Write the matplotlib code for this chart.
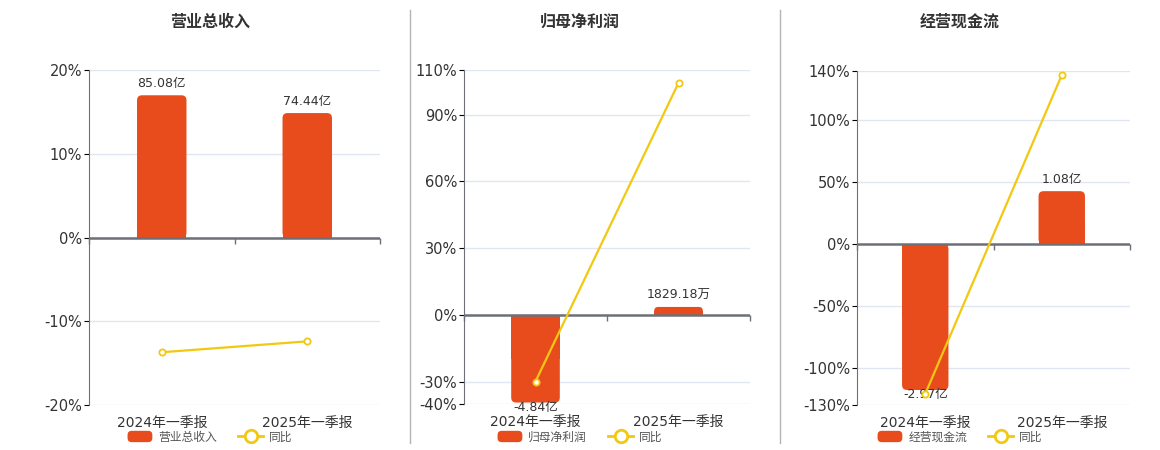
import matplotlib
matplotlib.use("Agg")
import matplotlib.pyplot as plt
from matplotlib.lines import Line2D
from matplotlib.patches import FancyBboxPatch, Patch, Rectangle
from matplotlib.legend_handler import HandlerPatch
import numpy as np

plt.rcParams["font.family"] = ["DejaVu Sans", "Noto Sans CJK SC"]

# --- data ---
periods = ["2024年一季报", "2025年一季报"]
titles = ["营业总收入", "归母净利润", "经营现金流"]

revenue = [85.08, 74.44]          # 亿
revenue_yoy = [-13.7, -12.4]      # %
revenue_labels = ["85.08亿", "74.44亿"]

profit = [-4.84, 0.182918]        # 亿
profit_yoy = [-29.9, 104.2]
profit_labels = ["-4.84亿", "1829.18万"]

cashflow = [-2.97, 1.08]          # 亿
cashflow_yoy = [-121.0, 136.7]
cashflow_labels = ["-2.97亿", "1.08亿"]

pct_ticks = [
    [-20, -10, 0, 10, 20],
    [-40, -30, 0, 30, 60, 90, 110],
    [-130, -100, -50, 0, 50, 100, 140],
]

BAR = "#e84c1d"
LINE = "#f2c811"
AXIS = "#6e7079"
GRID = "#e0e6f1"
TXT = "#333333"

W, H = 1160, 450
fig = plt.figure(figsize=(W / 100, H / 100), dpi=100)

# axes boxes in pixels: (left, top, right, bottom), and panel centre for title/legend
boxes = [(89, 70, 380, 405), (464, 70, 750, 404), (857, 71, 1130, 405)]
centres = [210, 580, 960]
# bar units (亿) per percent, so both series share the zero line
scales = [5.01, 0.123, 0.0252]

panels = [
    (revenue, revenue_yoy, revenue_labels),
    (profit, profit_yoy, profit_labels),
    (cashflow, cashflow_yoy, cashflow_labels),
]


def rounded_bar(ax, x, h, w, r_px=5, min_px=8):
    px_x = ax.bbox.width / np.diff(ax.get_xlim())[0]
    px_y = ax.bbox.height / np.diff(ax.get_ylim())[0]
    if abs(h) * px_y < min_px:
        h = np.sign(h) * min_px / px_y
    r = min(r_px, abs(h) * px_y / 2) / px_x
    y0 = min(0, h)
    p = FancyBboxPatch((x - w / 2, y0), w, abs(h),
                       boxstyle=f"round,pad=0,rounding_size={r}",
                       mutation_aspect=px_x / px_y,
                       fc=BAR, ec="none", zorder=2)
    ax.add_patch(p)
    ax.add_patch(Rectangle((x - w / 2, min(0, h / 2)), w, abs(h) / 2,
                           fc=BAR, ec="none", zorder=2))
    return h


def legend_box(legend, orig_handle, xdescent, ydescent, width, height, fontsize):
    return FancyBboxPatch((-xdescent, -ydescent), width, height,
                          boxstyle="round,pad=0,rounding_size=3")


for i, (vals, yoy, labels) in enumerate(panels):
    l, t, r, b = boxes[i]
    ax = fig.add_axes([l / W, 1 - b / H, (r - l) / W, (b - t) / H])
    ticks = pct_ticks[i]
    ylo, yhi = ticks[0], ticks[-1]
    k = scales[i]
    x = np.arange(len(periods))

    # base axes: bars + grid (in 亿)
    ax.set_xlim(-0.5, len(periods) - 0.5)
    ax.set_ylim(ylo * k, yhi * k)
    ax.set_yticks(np.array(ticks) * k)
    ax.yaxis.grid(True, color=GRID, lw=1)
    ax.set_axisbelow(True)
    ax.tick_params(axis="y", left=False, labelleft=False)
    ax.set_xticks(x)
    ax.set_xticklabels(periods, fontsize=10, color=TXT)
    ax.tick_params(axis="x", length=0, pad=8)
    for s in ["top", "right", "bottom"]:
        ax.spines[s].set_visible(False)
    ax.spines["left"].set_color(AXIS)

    px_y = ax.bbox.height / np.diff(ax.get_ylim())[0]
    for xi, v, lab in zip(x, vals, labels):
        hh = rounded_bar(ax, xi, v, 0.34)
        if v >= 0:
            ax.text(xi, hh + 5 / px_y, lab, ha="center", va="bottom",
                    fontsize=9, color=TXT, zorder=5)
        else:
            ax.text(xi, hh + 2 / px_y, lab, ha="center", va="top",
                    fontsize=9, color=TXT, zorder=5)

    # percent axes on top: ticks + line
    ax2 = ax.twinx()
    ax2.set_ylim(ylo, yhi)
    ax2.set_yticks(ticks)
    ax2.set_yticklabels([f"{v}%" for v in ticks], fontsize=10.5, color=TXT)
    ax2.yaxis.tick_left()
    ax2.tick_params(axis="y", length=0, pad=5)
    for s in ["top", "right", "bottom", "left"]:
        ax2.spines[s].set_visible(False)
    ax2.axhline(0, color=AXIS, lw=1.8, zorder=3)
    ax2.plot([-0.5, 0.5, 1.5], [0, 0, 0], ls="none", marker=3,
             ms=4, color=AXIS, mew=1, clip_on=False)
    ax2.plot(x, yoy, color=LINE, lw=1.6, marker="o", ms=4.5,
             mfc="white", mec=LINE, mew=1.3, zorder=4)

    fig.text(centres[i] / W, 1 - 22 / H, titles[i], ha="center", va="center",
             fontsize=11.5, fontweight="bold", color=TXT,
             family=["Noto Sans CJK SC", "DejaVu Sans"])

    bar_handle = Patch(fc=BAR, ec="none", label=titles[i])
    handles = [
        bar_handle,
        Line2D([], [], color=LINE, lw=2, marker="o", ms=9, mfc="white",
               mec=LINE, mew=2, label="同比"),
    ]
    fig.legend(handles=handles, loc="center", ncol=2, frameon=False,
               bbox_to_anchor=(centres[i] / W, 1 - 437 / H), fontsize=8.5,
               handlelength=2.1, handleheight=1.1, columnspacing=1.8,
               handletextpad=0.5, labelcolor="#555555",
               handler_map={bar_handle: HandlerPatch(patch_func=legend_box)})

for xs in (410, 780):
    fig.add_artist(Line2D([xs / W, xs / W], [1 - 10 / H, 1 - 443 / H],
                          color="#b4b4b4", lw=1, transform=fig.transFigure))

fig.savefig("out.png", dpi=100)
